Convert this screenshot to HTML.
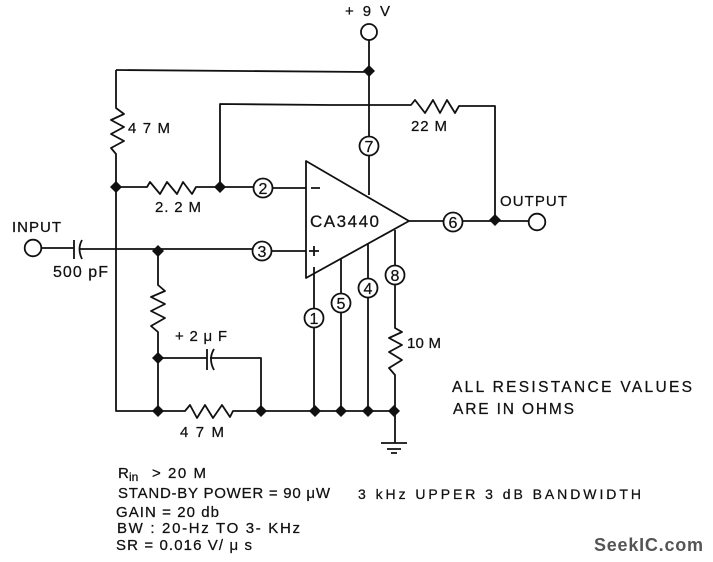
<!DOCTYPE html>
<html><head><meta charset="utf-8"><style>
html,body{margin:0;padding:0;background:#fff}
svg{display:block}
text{font-family:"Liberation Sans",sans-serif;fill:#111;stroke:#111;stroke-width:.25}
.w{fill:none;stroke:#111;stroke-width:1.8;stroke-linejoin:round}
.c{fill:#fff;stroke:#111;stroke-width:1.8}
.n{fill:#111}
.p{font-size:16px;text-anchor:middle}
</style></head><body>
<svg width="713" height="562" viewBox="0 0 713 562" xmlns="http://www.w3.org/2000/svg">
<g style="filter:blur(.3px)">
<g class="w">
<path d="M116 70 L369 72 M369 40 V195"/>
<path d="M116 70 V108 L124 114 L111 120 L124 127 L111 134 L124 141 L111 148 L116 154 V250"/>
<path d="M116 187 H147 L150 182 L160 194 L167 182 L177 194 L183 182 L192 194 L196 187 H254"/>
<path d="M220 187 V104 L330 105 H411 L415 100 L425 113 L433 100 L440 113 L447 100 L455 113 L459 106 H495 V220"/>
<path d="M272 188 H306"/>
<path d="M306 161 L409 221 L306 278 Z"/>
<path d="M41 248 H74 M74 240 V259"/>
<path d="M82 240 Q77 249 82 259"/>
<path d="M79 249 H253 M271 251 H306"/>
<path d="M116 250 V411 H185 L190 405 L197 418 L205 405 L213 418 L222 405 L230 417 L233 411 H394"/>
<path d="M158 251 V285 L165 291 L151 297 L165 304 L151 311 L165 318 L151 326 L158 332 V411"/>
<path d="M158 358 H207 M207 349 V370"/>
<path d="M214 349 Q208 359 214 370"/>
<path d="M210 358 H261 V411"/>
<path d="M314 267 V309 M314 328 V411"/>
<path d="M341 259 V294 M341 313 V411"/>
<path d="M368 244 V279 M368 298 V411"/>
<path d="M395 230 V265 M395 285 V328 L402 332 L389 338 L402 345 L389 352 L402 360 L389 368 L395 375 V443"/>
<path d="M409 221 H444 M463 221 H529"/>
<path d="M381 443 H407 M387 449 H401 M391 453 H397"/>
</g>
<g class="n">
<path d="M116 181 l6 6 -6 6 -6 -6z"/><path d="M220 181 l6 6 -6 6 -6 -6z"/>
<path d="M158 245 l6 6 -6 6 -6 -6z"/><path d="M369 65 l6 6 -6 6 -6 -6z"/>
<path d="M495 214 l6 6 -6 6 -6 -6z"/><path d="M158 352 l6 6 -6 6 -6 -6z"/>
<path d="M158 405 l6 6 -6 6 -6 -6z"/><path d="M261 405 l6 6 -6 6 -6 -6z"/>
<path d="M315 405 l6 6 -6 6 -6 -6z"/><path d="M341 405 l6 6 -6 6 -6 -6z"/>
<path d="M368 405 l6 6 -6 6 -6 -6z"/><path d="M394 405 l6 6 -6 6 -6 -6z"/>
</g>
<circle class="c" cx="33" cy="248" r="8.3"/><circle class="c" cx="369" cy="32" r="8"/><circle class="c" cx="537" cy="222" r="8.3"/>
<circle class="c" cx="263" cy="188" r="9.5"/><circle class="c" cx="262" cy="251" r="9.5"/>
<circle class="c" cx="369" cy="146" r="9.5"/><circle class="c" cx="453" cy="222" r="9.5"/>
<circle class="c" cx="395" cy="275" r="9.5"/><circle class="c" cx="368" cy="288" r="9.5"/>
<circle class="c" cx="341" cy="303" r="9.5"/><circle class="c" cx="314" cy="318" r="9.5"/>
<text class="p" x="263" y="194">2</text><text class="p" x="262" y="257">3</text>
<text class="p" x="369" y="152">7</text><text class="p" x="453" y="228">6</text>
<text class="p" x="395" y="281">8</text><text class="p" x="368" y="294">4</text>
<text class="p" x="341" y="309">5</text><text class="p" x="314" y="324">1</text>
<text x="345" y="16" font-size="15" textLength="45" lengthAdjust="spacing">+ 9 V</text>
<text x="128" y="133" font-size="15" textLength="42" lengthAdjust="spacing">4 7 M</text>
<text x="155" y="212" font-size="15" textLength="46" lengthAdjust="spacing">2. 2 M</text>
<text x="411" y="131" font-size="15" textLength="36" lengthAdjust="spacing">22 M</text>
<text x="12" y="232" font-size="15" textLength="49" lengthAdjust="spacing">INPUT</text>
<text x="53" y="277" font-size="16" textLength="55" lengthAdjust="spacing">500 pF</text>
<text x="310" y="227" font-size="17" textLength="69" lengthAdjust="spacing">CA3440</text>
<text x="500" y="206" font-size="15" textLength="67" lengthAdjust="spacing">OUTPUT</text>
<text x="175" y="341" font-size="15" textLength="52" lengthAdjust="spacing">+ 2 μ F</text>
<text x="180" y="437" font-size="15" textLength="44" lengthAdjust="spacing">4 7 M</text>
<text x="407" y="348" font-size="15" textLength="34" lengthAdjust="spacing">10 M</text>
<path class="w" d="M311 188 H320 M309 251 H319 M314 246 V256"/>
<text x="452" y="392" font-size="15.5" textLength="240" lengthAdjust="spacing">ALL RESISTANCE VALUES</text>
<text x="453" y="414" font-size="15.5" textLength="121" lengthAdjust="spacing">ARE IN OHMS</text>
<text x="118" y="478" font-size="15" textLength="10">R</text>
<text x="129" y="481" font-size="12">in</text>
<text x="152" y="478" font-size="15" textLength="54" lengthAdjust="spacing">&gt; 20 M</text>
<text x="118" y="498" font-size="15" textLength="212" lengthAdjust="spacing">STAND-BY POWER = 90 μW</text>
<text x="358" y="499" font-size="14" textLength="283" lengthAdjust="spacing">3 kHz  UPPER  3 dB  BANDWIDTH</text>
<text x="116" y="517" font-size="15" textLength="103" lengthAdjust="spacing">GAIN = 20 db</text>
<text x="117" y="533" font-size="15" textLength="183" lengthAdjust="spacing">BW : 20-Hz  TO 3- KHz</text>
<text x="116" y="550" font-size="15" textLength="136" lengthAdjust="spacing">SR = 0.016 V/ μ s</text>
<text x="594" y="551" font-size="18" font-weight="bold" style="fill:#555;stroke:none" textLength="109" lengthAdjust="spacing">SeekIC.com</text>
</g>
</svg>
</body></html>
